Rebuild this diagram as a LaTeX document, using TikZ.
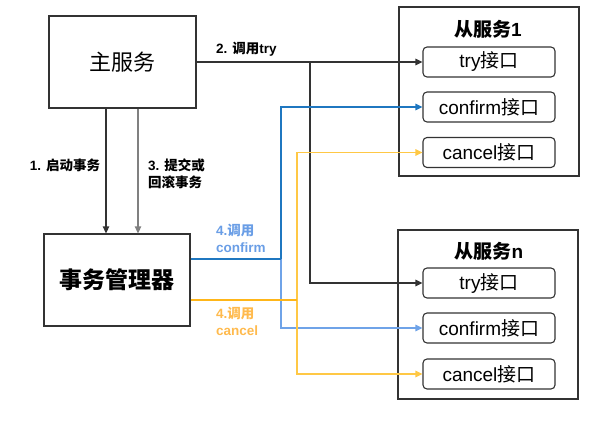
\documentclass[tikz,border=0pt]{standalone}
\usepackage{fontspec}
\setmainfont{Liberation Sans}
\newfontfamily\cjk{Noto Sans CJK SC}
\usetikzlibrary{arrows.meta,positioning}
\definecolor{cfdark}{HTML}{1F77C0}
\definecolor{cflight}{HTML}{6FA3E8}
\definecolor{cldark}{HTML}{FFB619}
\definecolor{cllight}{HTML}{FFC845}
\definecolor{cftext}{HTML}{6A9EE6}
\definecolor{cltext}{HTML}{FFBA4D}
\definecolor{edge}{HTML}{333333}
\newcommand{\zh}[1]{{\cjk #1}}
\tikzset{
  >={Triangle[length=7pt,width=6.5pt]},
  svc/.style={rectangle, draw=edge, line width=1.3pt, inner sep=0pt},
  big/.style={svc, minimum width=147pt, minimum height=92pt, font=\fontsize{22}{26}\selectfont},
  grp/.style={svc, minimum width=180pt, minimum height=169pt},
  api/.style={rectangle, draw=edge, line width=1.1pt, rounded corners=4pt, minimum width=132pt, minimum height=30pt, inner sep=0pt, font=\fontsize{19}{22}\selectfont},
  ttl/.style={font=\bfseries\fontsize{19}{22}\selectfont},
  tr/.style={->, line width=1.3pt},
  lbl/.style={font=\bfseries\fontsize{13.5}{17}\selectfont, align=left, inner sep=0pt}
}

\begin{document}
\begin{tikzpicture}[x=1pt, y=-1pt]
    \useasboundingbox (0,0) rectangle (589,423);

    % Main service and transaction manager
    \node[big] (main) at (122.5, 62) {\zh{主服务}};
    \node[big, minimum width=146pt, font=\bfseries\fontsize{23}{27}\selectfont] (tm) at (117, 280) {\zh{事务管理器}};

    % Slave services
    \node[grp] (s1) at (489, 91.5) {};
    \node[ttl] (t1) at (488, 29) {\zh{从服务}1};
    \node[api] (try1) at (489, 62) {try\zh{接口}};
    \node[api] (cf1) at (489, 107) {confirm\zh{接口}};
    \node[api] (cl1) at (489, 152.5) {cancel\zh{接口}};

    \node[grp] (sn) at (488, 314.5) {};
    \node[ttl] (tn) at (489, 251) {\zh{从服务}n};
    \node[api] (tryn) at (489, 283) {try\zh{接口}};
    \node[api] (cfn) at (489, 328) {confirm\zh{接口}};
    \node[api] (cln) at (489, 374) {cancel\zh{接口}};

    % Begin / commit or rollback
    \draw[tr, edge] ([xshift=-16.5pt]main.south) -- ([xshift=-16.5pt]main.south |- tm.north);
    \draw[tr, gray] ([xshift=15.5pt]main.south) -- ([xshift=15.5pt]main.south |- tm.north);
    \node[lbl] (l1) at (65, 165) {1. \zh{启动事务}};
    \node[lbl, anchor=west] (l3) at (148, 174) {3. \zh{提交或}\\\zh{回滚事务}};

    % Try calls
    \coordinate (tryfork) at (310, 62);
    \draw[tr, edge] (main.east) -- (main.east -| try1.west);
    \draw[tr, edge] (tryfork) |- (tryn.west);
    \node[lbl, anchor=west] (l2) at (216, 49) {2. \zh{调用}try};

    % Confirm calls
    \coordinate (cffork) at (281, 259);
    \draw[tr, cflight] (cffork) |- (cfn.west);
    \draw[tr, cfdark] (cffork) |- (cf1.west);
    \draw[cfdark, line width=1.7pt] ([yshift=21pt]tm.east) -- (cffork);
    \node[lbl, anchor=west, text=cftext] (l4a) at (216, 238) {4.\zh{调用}\\confirm};

    % Cancel calls
    \coordinate (clfork) at (297, 300);
    \draw[tr, cllight] (clfork) |- (cln.west);
    \draw[tr, cllight] (clfork) |- (cl1.west);
    \draw[cldark, line width=1.7pt] ([yshift=-20pt]tm.east) -- (clfork);
    \node[lbl, anchor=west, text=cltext] (l4b) at (216, 321) {4.\zh{调用}\\cancel};
\end{tikzpicture}
\end{document}
